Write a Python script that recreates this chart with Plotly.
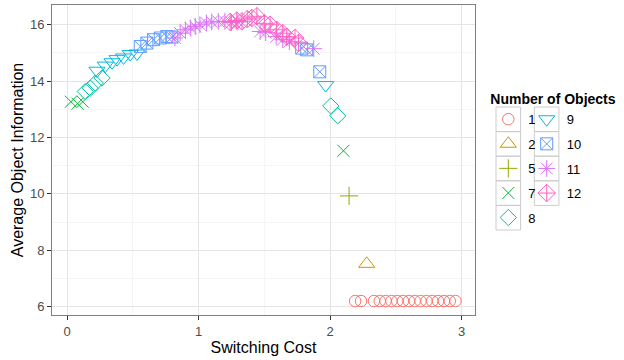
import plotly.graph_objects as go

# ---------------- data ----------------
levels = ["1", "2", "5", "7", "8", "9", "10", "11", "12"]

x_1 = [2.19, 2.235, 2.333, 2.377, 2.421, 2.466, 2.510, 2.554, 2.599, 2.643, 2.687, 2.732, 2.776, 2.820, 2.865, 2.909, 2.953]
y_1 = [6.2, 6.2, 6.2, 6.2, 6.2, 6.2, 6.2, 6.2, 6.2, 6.2, 6.2, 6.2, 6.2, 6.2, 6.2, 6.2, 6.2]

x_2 = [2.278]
y_2 = [7.52]

x_5 = [2.144]
y_5 = [9.93]

x_7 = [0.03, 0.08, 0.12, 2.101]
y_7 = [13.27, 13.2, 13.27, 11.53]

x_8 = [0.139, 0.177, 0.215, 0.266, 2.005, 2.058]
y_8 = [13.63, 13.75, 13.93, 14.11, 13.12, 12.77]

x_9 = [0.228, 0.291, 0.342, 0.38, 0.43, 0.481, 0.532, 1.966]
y_9 = [14.37, 14.55, 14.67, 14.78, 14.84, 14.96, 14.98, 13.86]

x_10 = [0.557, 0.607, 0.658, 0.709, 0.759, 0.797, 1.784, 1.822, 1.921]
y_10 = [15.23, 15.35, 15.47, 15.53, 15.58, 15.56, 15.17, 15.11, 14.33]

x_11 = [0.82, 0.86, 0.90, 0.94, 0.975, 1.01, 1.06, 1.10, 1.15, 1.20, 1.25, 1.30, 1.468, 1.51, 1.59, 1.64, 1.69, 1.875]
y_11 = [15.53, 15.70, 15.82, 15.88, 15.94, 16.0, 16.06, 16.10, 16.12, 16.12, 16.08, 16.10, 15.76, 15.72, 15.58, 15.47, 15.40, 15.15]

x_12 = [1.24, 1.29, 1.33, 1.37, 1.405, 1.443, 1.50, 1.544, 1.594, 1.64, 1.67, 1.733, 1.76]
y_12 = [16.1, 16.15, 16.12, 16.2, 16.24, 16.3, 16.05, 16.0, 15.82, 15.7, 15.58, 15.53, 15.35]

series_x = [x_1, x_2, x_5, x_7, x_8, x_9, x_10, x_11, x_12]
series_y = [y_1, y_2, y_5, y_7, y_8, y_9, y_10, y_11, y_12]

x_ticks = [0, 1, 2, 3]
y_ticks = [6, 8, 10, 12, 14, 16]

# ---------------- styles ----------------
colors = ["#F8766D", "#D39200", "#93AA00", "#00BA38", "#00C19F",
          "#00B9E3", "#619CFF", "#DB72FB", "#FF61C3"]
symbols = ["circle-open", "triangle-up-open", "cross-thin-open", "x-thin-open",
           "diamond-open", "triangle-down-open", "square-x-open",
           "asterisk-open", "diamond-cross-open"]
sizes = [11.5, 14, 13, 12, 12.5, 14, 12, 14, 13.5]

FONT = "Arial, Liberation Sans, sans-serif"
W, H = 624, 360
ML, MR, MT, MB = 52, 149, 5, 45
PW, PH = W - ML - MR, H - MT - MB

def px_to_paper_x(px):
    return (px - ML) / PW

def px_to_paper_y(py):
    return 1 - (py - MT) / PH

fig = go.Figure()
for i, lev in enumerate(levels):
    fig.add_trace(go.Scatter(
        x=series_x[i], y=series_y[i], mode="markers", name=lev,
        legend="legend" if i < 5 else "legend2",
        legendgroup=lev,
        marker=dict(symbol=symbols[i], size=sizes[i], color=colors[i],
                    line=dict(width=1, color=colors[i])),
        showlegend=True,
    ))

# legend key boxes (ggplot-like)
shapes = []
col_left = [496, 534.3]
row_top = 107
row_h = 24.6
box_w = 24.6
for i in range(len(levels)):
    c = 0 if i < 5 else 1
    r = i if i < 5 else i - 5
    x0 = col_left[c]
    y0 = row_top + r * row_h
    shapes.append(dict(type="rect", xref="paper", yref="paper", layer="above",
                       x0=px_to_paper_x(x0), x1=px_to_paper_x(x0 + box_w),
                       y0=px_to_paper_y(y0), y1=px_to_paper_y(y0 + row_h),
                       line=dict(color="#CCCCCC", width=1),
                       fillcolor="rgba(255,255,255,0)"))

axis_common = dict(
    showline=True, mirror=True, linecolor="#7F7F7F", linewidth=1,
    ticks="outside", ticklen=4, tickcolor="#333333", tickwidth=1,
    tickfont=dict(family=FONT, size=13, color="#4D4D4D"),
    showgrid=True, gridcolor="#E5E5E5", gridwidth=1, zeroline=False,
)

fig.update_layout(
    width=W, height=H,
    margin=dict(l=ML, r=MR, t=MT, b=MB),
    paper_bgcolor="white", plot_bgcolor="white",
    font=dict(family=FONT, color="black"),
    xaxis=dict(range=[-0.114, 3.101], tickvals=x_ticks,
               minor=dict(showgrid=True, gridcolor="#F5F5F5", dtick=0.5, tick0=0),
               title=dict(text="Switching Cost", font=dict(size=16, family=FONT), standoff=4),
               **axis_common),
    yaxis=dict(range=[5.705, 16.70], tickvals=y_ticks,
               minor=dict(showgrid=True, gridcolor="#F5F5F5", dtick=1, tick0=5),
               title=dict(text="Average Object Information", font=dict(size=16, family=FONT), standoff=2),
               **axis_common),
    legend=dict(
        title=dict(text="<b>Number of Objects</b>", font=dict(size=14, family=FONT)),
        x=px_to_paper_x(508.3 - 20), xanchor="left",
        y=px_to_paper_y(86), yanchor="top",
        bgcolor="rgba(0,0,0,0)", borderwidth=0,
        font=dict(size=13, family=FONT),
        traceorder="grouped", tracegroupgap=4.7,
    ),
    legend2=dict(
        x=px_to_paper_x(546.7 - 20), xanchor="left",
        y=px_to_paper_y(104.3), yanchor="top",
        bgcolor="rgba(0,0,0,0)", borderwidth=0,
        font=dict(size=13, family=FONT),
        traceorder="grouped", tracegroupgap=4.7,
    ),
    shapes=shapes,
)

fig.write_html("out.html", config={"displayModeBar": False},
               post_script="document.body.style.margin='0px';")
